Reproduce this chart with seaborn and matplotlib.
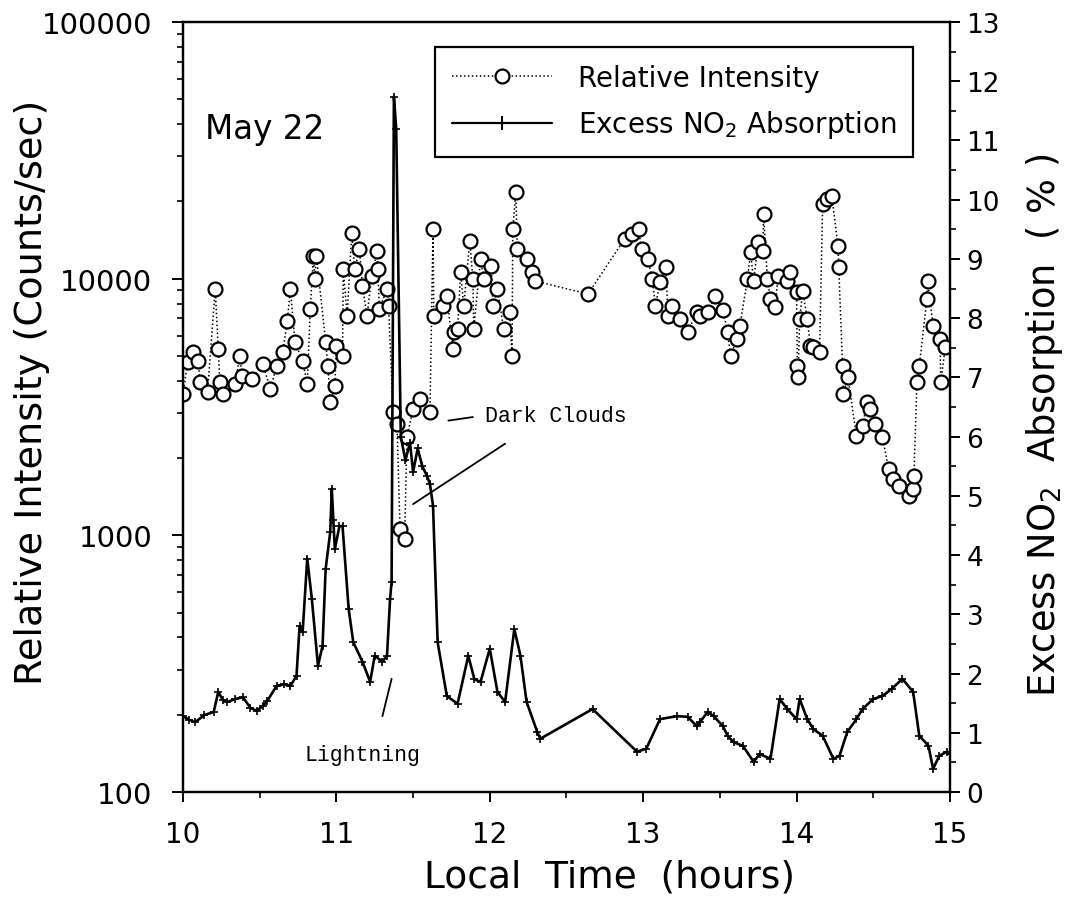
import numpy as np
import pandas as pd
import matplotlib
matplotlib.use("Agg")
import matplotlib.pyplot as plt
import seaborn as sns
from matplotlib.lines import Line2D
from matplotlib.ticker import FixedLocator, FuncFormatter, MultipleLocator, LogLocator, NullFormatter

# ---------------- data ----------------
intensity_time = [
    10.00, 10.03, 10.065, 10.10, 10.11, 10.16, 10.21, 10.23, 10.24, 10.26,
    10.34, 10.37, 10.385, 10.45, 10.52, 10.57, 10.61, 10.65, 10.68, 10.70,
    10.73, 10.78, 10.81, 10.83, 10.85, 10.86, 10.87, 10.93, 10.945, 10.96,
    10.99, 11.00, 11.04, 11.045, 11.07, 11.10, 11.12, 11.15, 11.17, 11.20,
    11.23, 11.265, 11.27, 11.28, 11.33, 11.34, 11.37, 11.395, 11.415, 11.445,
    11.46, 11.50, 11.545, 11.61, 11.63, 11.635, 11.695, 11.72, 11.76, 11.765,
    11.79, 11.81, 11.83, 11.87, 11.89, 11.895, 11.94, 11.96, 12.01, 12.02,
    12.05, 12.09, 12.13, 12.145, 12.15, 12.17, 12.18, 12.24, 12.275, 12.295,
    12.64, 12.88, 12.93, 12.97, 12.99, 13.03, 13.06, 13.08, 13.11, 13.15,
    13.16, 13.19, 13.24, 13.29, 13.35, 13.37, 13.42, 13.47, 13.52, 13.55,
    13.57, 13.61, 13.63, 13.68, 13.70, 13.72, 13.75, 13.78, 13.785, 13.81,
    13.83, 13.86, 13.88, 13.94, 13.96, 14.00, 14.005, 14.01, 14.02, 14.04,
    14.07, 14.09, 14.11, 14.15, 14.17, 14.20, 14.23, 14.27, 14.275, 14.30,
    14.305, 14.335, 14.39, 14.43, 14.46, 14.48, 14.51, 14.56, 14.60, 14.63,
    14.67, 14.73, 14.76, 14.765, 14.785, 14.80, 14.85, 14.855, 14.89, 14.935,
    14.94, 14.97,
]
intensity_counts = [
    3550, 4730, 5180, 4770, 3960, 3620, 9100, 5320, 3960, 3550,
    3890, 4990, 4180, 4060, 4650, 3720, 4570, 5180, 6840, 9100,
    5670, 4770, 3890, 7620, 12200, 10000, 12250, 5670, 4570, 3300,
    3820, 5460, 4990, 10900, 7150, 15000, 10900, 13000, 9360, 7150,
    10240, 12800, 10900, 7620, 9100, 7820, 3020, 2710, 1060, 970,
    2420, 3100, 3390, 3020, 15600, 7150, 7820, 8550, 5320, 6200,
    6360, 10600, 7820, 14000, 9960, 6360, 11900, 9960, 11200, 7820,
    9120, 6360, 7410, 4990, 15600, 21700, 13000, 11900, 10600, 9790,
    8710, 14300, 14900, 15600, 13000, 11900, 9960, 7820, 9700, 11100,
    7150, 7820, 6960, 6200, 7410, 7150, 7410, 8550, 7550, 6200,
    4990, 5820, 6540, 9960, 12700, 9790, 13900, 12800, 17900, 9960,
    8330, 7750, 10240, 9790, 10600, 8870, 4570, 4140, 6960, 8950,
    6960, 5460, 5420, 5180, 19500, 20400, 21000, 13400, 11100, 4570,
    3550, 4140, 2440, 2670, 3300, 3100, 2710, 2420, 1810, 1660,
    1560, 1420, 1510, 1700, 3960, 4570, 8330, 9790, 6540, 5820,
    3960, 5420,
]

no2_time = [
    10.00, 10.04, 10.08, 10.14, 10.20, 10.23, 10.26, 10.29, 10.34, 10.39,
    10.44, 10.48, 10.52, 10.55, 10.61, 10.66, 10.70, 10.74, 10.76, 10.78,
    10.81, 10.84, 10.88, 10.91, 10.93, 10.96, 10.97, 10.98, 10.99, 11.02,
    11.04, 11.08, 11.11, 11.17, 11.22, 11.25, 11.30, 11.33, 11.35, 11.36,
    11.375, 11.39, 11.42, 11.45, 11.48, 11.50, 11.53, 11.56, 11.59, 11.61,
    11.63, 11.66, 11.72, 11.79, 11.86, 11.90, 11.94, 12.00, 12.05, 12.10,
    12.16, 12.20, 12.24, 12.31, 12.33, 12.67, 12.96, 13.02, 13.11, 13.22,
    13.29, 13.35, 13.37, 13.42, 13.46, 13.52, 13.55, 13.59, 13.65, 13.72,
    13.76, 13.83, 13.89, 13.94, 14.00, 14.02, 14.07, 14.11, 14.17, 14.24,
    14.28, 14.33, 14.39, 14.43, 14.50, 14.56, 14.62, 14.69, 14.76, 14.80,
    14.86, 14.89, 14.93, 14.98, 15.00,
]
no2_absorption = [
    1.28, 1.22, 1.18, 1.30, 1.35, 1.69, 1.55, 1.52, 1.57, 1.60,
    1.42, 1.37, 1.45, 1.54, 1.79, 1.82, 1.79, 1.96, 2.80, 2.70,
    3.94, 3.26, 2.13, 2.47, 3.77, 4.39, 5.12, 4.60, 4.10, 4.49,
    4.49, 3.09, 2.53, 2.20, 1.86, 2.30, 2.20, 2.30, 3.26, 3.55,
    11.74, 11.20, 6.00, 5.60, 5.90, 5.40, 5.80, 5.50, 5.34, 5.20,
    4.83, 2.53, 1.62, 1.49, 2.30, 1.90, 1.86, 2.42, 1.69, 1.52,
    2.75, 2.30, 1.52, 1.01, 0.90, 1.40, 0.68, 0.73, 1.23, 1.28,
    1.27, 1.11, 1.18, 1.35, 1.28, 1.11, 0.95, 0.84, 0.78, 0.51,
    0.64, 0.56, 1.57, 1.40, 1.23, 1.57, 1.23, 1.06, 0.95, 0.56,
    0.61, 1.01, 1.23, 1.40, 1.57, 1.62, 1.74, 1.91, 1.69, 0.95,
    0.78, 0.39, 0.61, 0.68, 0.64,
]

x_ticks = [10, 11, 12, 13, 14, 15]
left_ticks = [100, 1000, 10000, 100000]
right_ticks = list(range(0, 14))

# annotation geometry (time, absorption %)
lightning_mark = ([11.30, 11.36], [1.28, 1.91])
dark_dash = ([11.73, 11.89], [6.27, 6.33])
dark_pointer = ([11.50, 12.10], [4.86, 5.88])

# ---------------- plotting ----------------
sns.set_style("ticks")
plt.rcParams["font.family"] = ["DejaVu Sans"]
plt.rcParams["text.color"] = "black"
plt.rcParams["axes.labelcolor"] = "black"
plt.rcParams["xtick.color"] = "black"
plt.rcParams["ytick.color"] = "black"

fig = plt.figure(figsize=(10.67, 9.04), dpi=100)
ax = fig.add_axes([0.1715, 0.1228, 0.7188, 0.8518])
ax2 = ax.twinx()

df_i = pd.DataFrame({"t": intensity_time, "I": intensity_counts})
df_n = pd.DataFrame({"t": no2_time, "N": no2_absorption})

sns.lineplot(data=df_i, x="t", y="I", ax=ax, estimator=None, sort=False,
             color="black", linestyle=(0, (1, 1.6)), linewidth=1.1,
             marker="o", markersize=10, markerfacecolor="white",
             markeredgecolor="black", markeredgewidth=1.6, zorder=3)

sns.lineplot(data=df_n, x="t", y="N", ax=ax2, estimator=None, sort=False,
             color="black", linewidth=1.9, marker="+", markersize=6,
             markeredgecolor="black", markeredgewidth=1.2, zorder=4)

ax.set_xlim(10, 15)
ax.set_yscale("log")
ax.set_ylim(100, 100000)
ax2.set_ylim(0, 13)

ax.xaxis.set_major_locator(FixedLocator(x_ticks))
ax.xaxis.set_minor_locator(MultipleLocator(0.5))
ax.yaxis.set_major_locator(FixedLocator(left_ticks))
ax.yaxis.set_minor_locator(LogLocator(base=10, subs=np.arange(2, 10)))
ax.yaxis.set_minor_formatter(NullFormatter())
ax.yaxis.set_major_formatter(FuncFormatter(lambda v, p: f"{int(round(v))}"))
ax2.yaxis.set_major_locator(FixedLocator(right_ticks))
ax2.yaxis.set_minor_locator(MultipleLocator(0.5))

ax.set_xlabel("")
ax.set_ylabel("")
ax2.set_ylabel("")

for a in (ax, ax2):
    for s in a.spines.values():
        s.set_linewidth(1.6)
        s.set_color("black")
ax.tick_params(axis="x", which="major", direction="out", length=7, width=1.4,
               labelsize=20, pad=13)
ax.tick_params(axis="x", which="minor", direction="out", length=4, width=1.2)
ax.tick_params(axis="y", which="major", direction="out", length=8, width=1.4,
               labelsize=21, pad=14)
ax.tick_params(axis="y", which="minor", direction="out", length=4, width=1.2)
ax2.tick_params(axis="y", which="major", direction="out", length=7, width=1.4,
                labelsize=19, pad=5)
ax2.tick_params(axis="y", which="minor", direction="out", length=4, width=1.2)

# axis titles
fig.text(0.571, 0.029, "Local  Time  (hours)", fontsize=27, ha="center", va="center")
fig.text(0.030, 0.566, "Relative Intensity (Counts/sec)", fontsize=27.5,
         rotation=90, ha="center", va="center")
fig.text(0.979, 0.53, "Excess NO$_2$  Absorption  ( % )", fontsize=26.5,
         rotation=90, ha="center", va="center")

ax.text(0.029, 0.861, "May 22", transform=ax.transAxes, fontsize=23.5,
        ha="left", va="center")

# annotations
ax2.plot(*lightning_mark, color="black", lw=1.3)
ax2.plot(*dark_dash, color="black", lw=1.3)
ax2.plot(*dark_pointer, color="black", lw=1.3)
ax2.text(11.97, 6.35, "Dark Clouds", fontsize=15.5, family="Liberation Mono",
         ha="left", va="center")
ax2.text(10.795, 0.64, "Lightning", fontsize=15.5, family="Liberation Mono",
         ha="left", va="center")

# legend
h1 = Line2D([], [], color="black", linestyle=(0, (1, 1.6)), lw=1.1, marker="o",
            ms=10, mfc="white", mec="black", mew=1.6)
h2 = Line2D([], [], color="black", lw=1.6, marker="+", ms=10, mew=1.4)
leg = ax2.legend([h1, h2], ["Relative Intensity", "Excess NO$_2$ Absorption"],
                 loc="upper left", bbox_to_anchor=(0.3286, 0.9675),
                 borderaxespad=0, frameon=True, fancybox=False, framealpha=1,
                 edgecolor="black", fontsize=20, handlelength=3.6,
                 handletextpad=0.95, borderpad=0.6, labelspacing=0.6)
leg.get_frame().set_linewidth(1.6)

fig.savefig("out.png", dpi=100, facecolor="white")
